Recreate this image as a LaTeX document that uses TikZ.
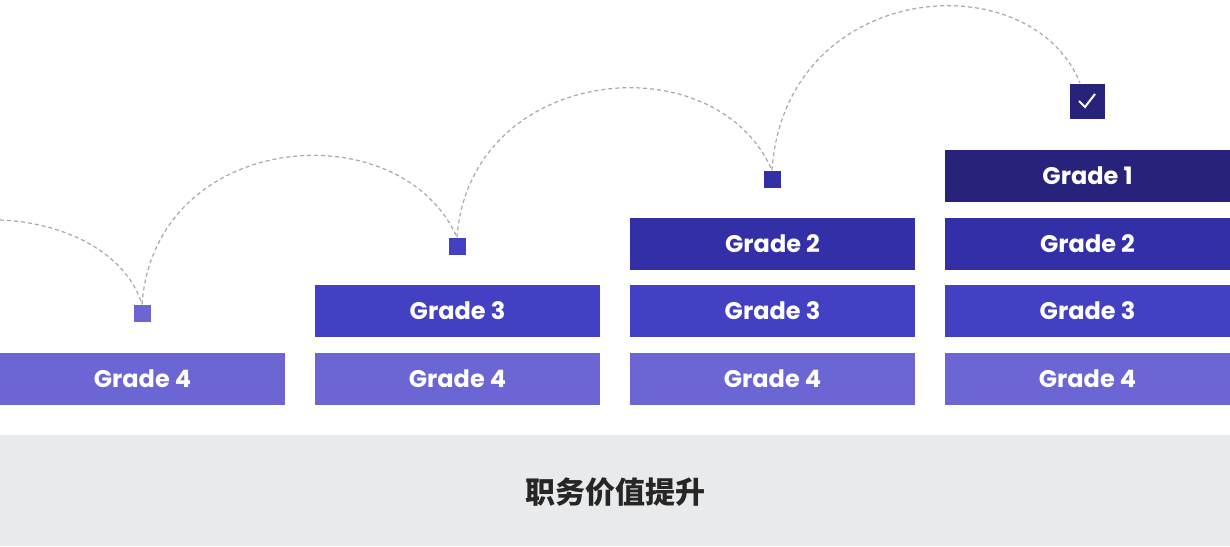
\documentclass[tikz,border=0pt]{standalone}
\usepackage{fontspec}
\setmainfont{Poppins}
\newfontfamily\cjk{Noto Sans CJK SC}
\definecolor{gfour}{HTML}{6B66D4}
\definecolor{gthree}{HTML}{4340C4}
\definecolor{gtwo}{HTML}{332FA6}
\definecolor{gone}{HTML}{27237A}
\definecolor{band}{HTML}{E8EAEB}
\definecolor{trail}{HTML}{A8A8A8}
\tikzset{
  gradebox/.style={fill=#1,text=white,minimum width=285pt,minimum height=52pt,inner sep=0pt,font=\fontsize{24}{24}\selectfont\bfseries},
  mark/.style={fill=#1,minimum size=17pt,inner sep=0pt},
  hop/.style={draw=trail,line width=1.2pt,dash pattern=on 4pt off 3pt}
}
\begin{document}
\begin{tikzpicture}[x=1pt,y=-1pt]
\useasboundingbox (0,0) rectangle (1230,546);
\fill[band] (0,435) rectangle (1230,546);
\node[font=\cjk\fontsize{30}{30}\selectfont\bfseries,text=black!85] (title) at (615,492) {职务价值提升};

% columns
\node[gradebox=gfour] (a4) at (142.5,379) {Grade 4};
\node[gradebox=gfour] (b4) at (457.5,379) {Grade 4};
\node[gradebox=gthree] (b3) at (457.5,311) {Grade 3};
\node[gradebox=gfour] (c4) at (772.5,379) {Grade 4};
\node[gradebox=gthree] (c3) at (772.5,311) {Grade 3};
\node[gradebox=gtwo] (c2) at (772.5,244) {Grade 2};
\node[gradebox=gfour] (d4) at (1087.5,379) {Grade 4};
\node[gradebox=gthree] (d3) at (1087.5,311) {Grade 3};
\node[gradebox=gtwo] (d2) at (1087.5,244) {Grade 2};
\node[gradebox=gone] (d1) at (1087.5,176) {Grade 1};

% markers
\node[mark=gfour] (m1) at (142,313) {};
\node[mark=gthree] (m2) at (457,246) {};
\node[mark=gtwo] (m3) at (772,179) {};
\node[mark=gone,minimum size=35pt] (m4) at (1087,101) {};
\draw[white,line width=2pt] (1079,101) -- (1085,107) -- (1095,94);

\coordinate (start) at (0,220);
\draw[hop] (start) .. controls (60,222) and (125,250) .. (m1.north);
\draw[hop] (m1.north) .. controls (155,130) and (400,110) .. (m2.north);
\draw[hop] (m2.north) .. controls (470,65) and (715,40) .. (m3.north);
\draw[hop] (m3.north) .. controls (785,-20) and (1030,-40) .. (1080,83);
\end{tikzpicture}
\end{document}
